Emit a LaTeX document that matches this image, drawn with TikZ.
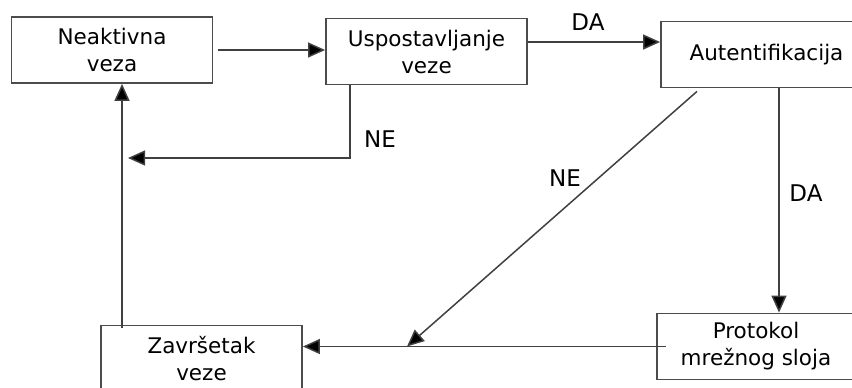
\documentclass[tikz,border=0pt]{standalone}
\usepackage{fontspec}
\setmainfont{DejaVu Sans}
\usetikzlibrary{arrows.meta}
\tikzstyle{stanje} = [draw=black!70, line width=1.8pt, rectangle, align=center, font={\fontsize{21.5}{27}\selectfont}, minimum width=201pt, minimum height=66pt, inner sep=0pt]
\tikzstyle{veza} = [draw=black!75, line width=1.5pt, -{Triangle[length=17pt,width=15pt,fill=black]}]
\tikzstyle{oznaka} = [font={\fontsize{23}{27}\selectfont}]

\begin{document}
\begin{tikzpicture}[x=1pt,y=-1pt]
    \useasboundingbox (0,0) rectangle (852,388);
    \node[stanje](neak) at (112,50){Neaktivna\\veza};
    \node[stanje](usp) at (426.5,51.5){Uspostavljanje\\veze};
    \node[stanje,minimum width=211pt](aut) at (766.5,54.5){\raisebox{5pt}{Autentifikacija}};
    \node[stanje,minimum width=198pt](prot) at (756,346.5){Protokol\\mrežnog sloja};
    \node[stanje](zav) at (201.5,358.5){Završetak\\veze};
    \coordinate (kraj1) at (128,158);
    \coordinate (kraj2) at (407,346.5);
    \draw[veza,shorten <=5pt](neak.east)--(neak.east -| usp.west);
    \draw[veza]([yshift=9.5pt]usp.east)--([yshift=9.5pt]usp.east -| aut.west);
    \draw[veza]([xshift=12.5pt]aut.south)--([xshift=12.5pt]aut.south |- prot.north);
    \draw[veza]([xshift=10pt]prot.west)--(prot.west -| zav.east);
    \draw[veza]([xshift=-69.5pt,yshift=-3pt]aut.south)--(kraj2);
    \draw[veza]([xshift=-76.5pt]usp.south)--([xshift=-76.5pt]usp.south |- kraj1)--(kraj1);
    \draw[veza]([xshift=-79.5pt,yshift=-3pt]zav.north)--([xshift=-79.5pt]zav.north |- neak.south);
    \node[oznaka](da1) at (588,22){DA};
    \node[oznaka](da2) at (806,193){DA};
    \node[oznaka](ne1) at (380,139){NE};
    \node[oznaka](ne2) at (565,178){NE};
  \end{tikzpicture}
\end{document}
